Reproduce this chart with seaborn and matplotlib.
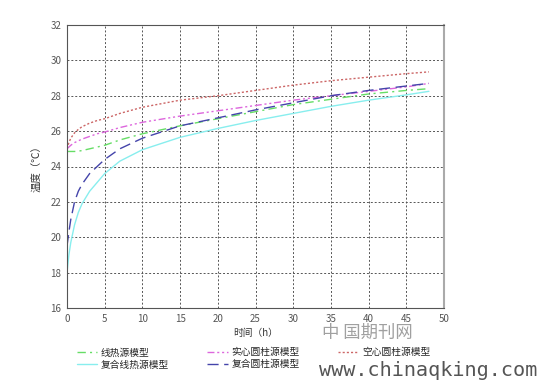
import matplotlib
matplotlib.use("Agg")
import matplotlib.pyplot as plt
import seaborn as sns
import pandas as pd

sns.set_theme(style="white")
plt.rcParams['font.family'] = ['Noto Sans CJK SC', 'DejaVu Sans']

t = [0, 0.25, 0.5, 1, 1.5, 2, 3, 4, 5, 7, 10, 15, 20, 25, 30, 35, 40, 45, 48]
line_src = [24.85, 24.85, 24.85, 24.85, 24.87, 24.9, 25.0, 25.1, 25.2, 25.5, 25.85, 26.3, 26.7, 27.1, 27.5, 27.8, 28.1, 28.3, 28.4]
solid_cyl = [25.0, 25.1, 25.2, 25.35, 25.45, 25.55, 25.7, 25.85, 25.95, 26.2, 26.5, 26.85, 27.15, 27.45, 27.75, 28.0, 28.25, 28.5, 28.7]
hollow_cyl = [25.0, 25.35, 25.6, 25.9, 26.1, 26.25, 26.45, 26.6, 26.7, 27.0, 27.35, 27.75, 28.0, 28.3, 28.6, 28.85, 29.05, 29.25, 29.35]
comp_line = [18.0, 19.0, 19.7, 20.7, 21.4, 21.9, 22.6, 23.1, 23.6, 24.3, 24.95, 25.65, 26.15, 26.6, 27.0, 27.4, 27.75, 28.05, 28.25]
comp_cyl = [19.5, 20.3, 21.0, 22.0, 22.6, 23.0, 23.6, 24.0, 24.4, 25.0, 25.6, 26.3, 26.75, 27.2, 27.6, 28.0, 28.3, 28.55, 28.7]

names = ['线热源模型', '实心圆柱源模型', '空心圆柱源模型', '复合线热源模型', '复合圆柱源模型']
series = [line_src, solid_cyl, hollow_cyl, comp_line, comp_cyl]
colors = ['#66dd66', '#dd66dd', '#cc6666', '#88eeee', '#4444aa']
styles = [(0, (6, 3, 1.5, 3)), (0, (5, 2, 1.5, 2, 1.5, 2)), (0, (1.5, 1.5)), '-', (0, (8, 4))]

x_ticks = [0, 5, 10, 15, 20, 25, 30, 35, 40, 45, 50]
y_ticks = [16, 18, 20, 22, 24, 26, 28, 30, 32]

fig = plt.figure(figsize=(5.49, 3.80), dpi=100)
ax = fig.add_axes([67/549, 1-308/380, (444-67)/549, (308-25)/380])

handles = {}
for name, vals, c, ls in zip(names, series, colors, styles):
    df = pd.DataFrame({'t': t, 'v': vals})
    sns.lineplot(data=df, x='t', y='v', ax=ax, color=c, linestyle=ls, linewidth=1.0, label=name)
    handles[name] = ax.get_lines()[-1]

ax.set_xlim(0, 50)
ax.set_ylim(16, 32)
ax.set_xticks(x_ticks)
ax.set_yticks(y_ticks)
ax.tick_params(axis='both', labelsize=7, colors='#555555', length=0, pad=4)
ax.grid(True, color='#555555', linestyle=(0, (2, 2)), linewidth=0.7)
for s in ['left', 'bottom', 'top']:
    ax.spines[s].set_color('#555555')
    ax.spines[s].set_linewidth(0.8)
ax.spines['right'].set_color('#aaaaaa')
ax.spines['right'].set_linewidth(1.5)

ax.set_xlabel('时间（h）', fontsize=7, color='#333333', labelpad=3)
ax.set_ylabel('温度（℃）', fontsize=7.5, color='#333333', labelpad=6)
ax.legend_.remove()

order = ['线热源模型', '复合线热源模型', '实心圆柱源模型', '复合圆柱源模型', '空心圆柱源模型']
fig.legend([handles[n] for n in order], order, loc='lower left', bbox_to_anchor=(68/549, 0.005),
           ncol=3, frameon=False, fontsize=7, handlelength=2.1, columnspacing=3.9,
           labelspacing=0.2, handletextpad=0.4)

fig.text(322/549, 1-333/380, '中 国期刊网', fontsize=12.5, color='#888888', va='center', alpha=0.8)
fig.text(319/549, 1-370/380, 'www.chinaqking.com', fontsize=14.5, color='#555555', va='center',
         family=['DejaVu Sans Mono'])

fig.savefig('out.png', dpi=100)
